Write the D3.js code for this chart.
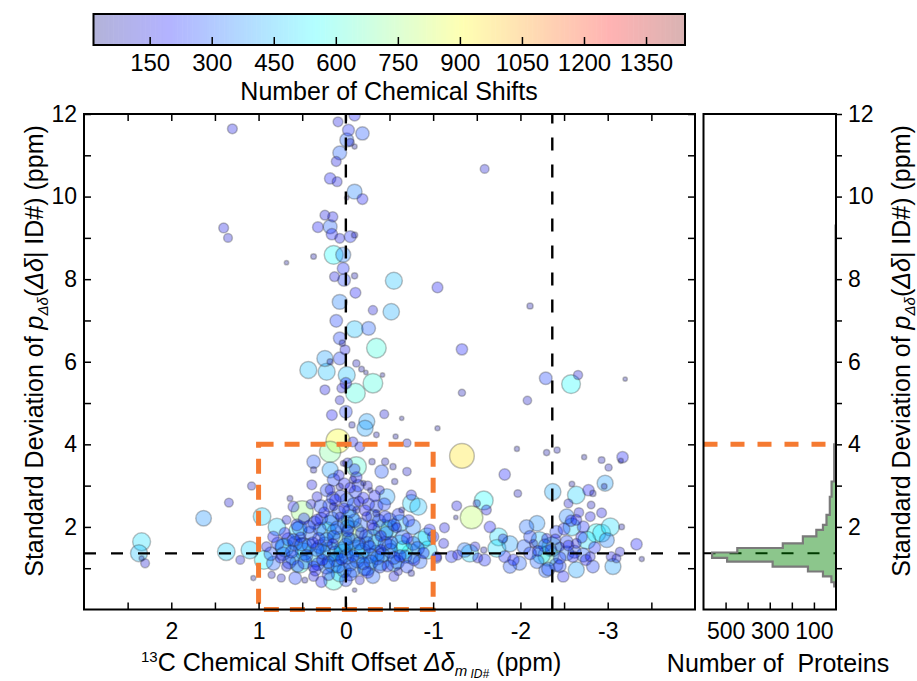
<!DOCTYPE html>
<html>
<head>
<meta charset="utf-8">
<script src="https://cdn.jsdelivr.net/npm/d3@7"></script>
<style>
  body { margin: 0; background: #fff; }
  text { font-family: "Liberation Sans", Arial, sans-serif; }
</style>
</head>
<body>
<script>
// [offset ppm, std dev ppm, number of chemical shifts]
const leftOutliers = [
  [1.30,11.64,150],[1.40,9.24,150],[1.35,9.00,120],[0.68,8.40,30],[0.37,8.55,50],
  [2.34,1.64,500],[2.37,1.36,450],[2.30,1.12,120],[2.34,1.24,40],
  [1.63,2.21,380],[1.34,2.59,120],[1.08,2.99,100],[1.37,1.40,480],[1.21,1.20,120],
  [1.10,1.44,480],[1.06,0.76,40],[0.96,2.25,480]
];

const centerColumn = [
  [0.09,11.81,150],[-0.10,11.97,200],[-0.03,11.61,220],[-0.19,11.53,280],[-0.01,11.37,300],
  [-0.05,11.31,100],[-0.10,11.21,40],[0.07,11.06,300],[0.11,10.85,150],[0.18,10.44,200],
  [0.10,10.36,150],[-0.10,10.12,350],[-0.19,9.94,180],[-0.01,9.97,30],[0.24,9.55,150],
  [0.15,9.51,160],[0.32,9.26,180],[0.18,9.27,300],[0.16,9.09,200],[0.07,8.99,150],
  [-0.05,9.03,220],[-0.10,9.07,60],[0.14,8.59,550],[0.03,8.59,350],[0.03,8.26,220],
  [0.13,8.06,150],[0.02,7.98,250],[-0.10,8.08,60],[-0.55,7.96,450],[-1.05,7.80,180],
  [-0.11,7.67,180],[0.07,7.45,350],[-0.31,7.25,130],[-0.52,7.21,420],[0.11,6.99,250],
  [-0.10,6.79,450],[-0.26,6.81,300],[0.07,6.57,250],[0.04,6.45,60],[-0.35,6.33,600],
  [0.01,6.29,150],[0.24,6.08,400],[0.18,6.00,60],[0.07,6.08,250],[-0.12,5.96,80],
  [0.43,5.80,450],[0.22,5.76,450],[-0.01,5.68,450],[-0.18,5.82,50],[-0.23,5.74,30],
  [-0.42,5.68,30],[-0.31,5.48,600],[0.24,5.32,150],[0.05,5.36,130],[-0.11,5.24,600],
  [0.00,5.48,200],[0.07,5.07,120],[0.16,4.71,180],[0.00,4.79,250],[-0.24,4.55,400],
  [-0.22,4.39,400],[-0.44,4.73,120],[-0.64,4.63,30],[-1.05,4.39,40],[-0.07,4.47,60],
  [-0.35,4.23,50],[-0.57,4.19,40],[-0.70,4.03,100]
];

const centralCluster = [
  [0.09,4.08,900],[0.18,3.82,700],[-0.08,4.06,150],[-0.16,3.94,150],
  [0.37,3.58,280],[0.37,3.38,60],[0.18,3.38,400],[0.03,3.54,50],[-0.12,3.46,620],
  [-0.30,3.58,60],[-0.41,3.34,280],[-0.45,3.58,80],[-0.54,3.46,60],[-0.70,3.34,110],
  [-0.56,3.10,60],[0.39,3.02,150],[0.14,3.14,250],[0.07,2.97,80],[-0.08,3.14,80],
  [-0.20,3.06,40],[-0.28,2.89,40],[-0.39,2.89,120],[-0.47,2.73,400],[-0.75,2.77,160],
  [-0.75,2.57,480],[-0.83,2.49,450],[-0.64,2.41,50],[0.64,2.69,50],[0.60,2.49,180],
  [0.50,2.37,750],[0.68,2.17,120],[0.79,2.00,480],[0.53,1.97,350],[0.33,2.73,150],
  [0.22,2.89,250],[0.14,2.49,100],[-0.01,2.65,300],[-0.12,2.41,80],[-0.24,2.25,150],
  [-0.35,2.33,80],[-0.50,2.17,300],[-0.62,2.09,450],[-0.43,1.93,650],[-0.08,1.88,750],
  [0.18,2.09,400],[0.33,2.17,200],[0.41,1.85,300],[0.14,1.76,250],[0.07,2.25,120],
  [0.00,2.09,400],[0.60,1.68,250],[0.72,1.52,400],[0.83,1.76,200],[0.91,1.52,150],
  [0.49,1.52,500],[0.30,1.52,300],[0.18,1.40,600],[0.03,1.36,550],[-0.12,1.48,450],
  [-0.24,1.60,300],[-0.35,1.36,400],[-0.50,1.52,350],[-0.66,1.44,550],[-0.77,1.60,300],
  [-0.87,1.68,500],[-0.94,1.44,500],[-1.00,1.76,200],[-1.12,1.60,150],[-1.04,1.24,150],
  [-0.85,1.16,300],[-0.70,1.04,250],[-0.55,1.12,400],[-0.39,1.04,250],[-0.24,1.04,500],
  [-0.08,0.96,350],[0.07,0.88,450],[0.14,0.71,600],[0.00,0.71,250],[0.22,1.04,350],
  [0.37,1.04,200],[0.53,1.12,600],[0.68,1.04,150],[0.83,1.12,300],[0.94,1.20,550],
  [0.85,0.84,80],[0.74,0.76,100],[0.58,0.76,250],[0.47,0.71,50],[0.28,0.67,200],
  [0.37,0.80,150],[-0.16,0.71,120],[-0.31,0.80,300],[-0.55,0.80,150],[-0.75,0.88,60],
  [-0.60,0.92,100],[-0.10,0.47,30],[-0.96,1.93,200],[-0.77,2.00,350],[-0.93,1.76,500],
  [-0.89,1.37,200],[-1.04,1.28,150],
  // densely packed blue proteins in the core
  [0.45,1.30,240],[0.38,1.62,200],[0.30,1.95,260],[0.25,2.35,180],[0.20,1.15,250],
  [0.15,1.58,190],[0.12,2.65,210],[0.10,1.98,280],[0.05,1.22,220],[0.02,2.45,180],
  [-0.03,1.72,260],[-0.05,2.95,170],[-0.08,1.30,230],[-0.10,2.15,280],[-0.15,2.62,160],
  [-0.18,1.85,220],[-0.20,1.12,260],[-0.22,2.40,190],[-0.27,1.52,240],[-0.30,2.05,170],
  [-0.33,2.75,200],[-0.36,1.25,300],[-0.40,1.78,190],[-0.45,2.25,220],[-0.48,1.05,200],
  [-0.52,1.62,260],[-0.58,1.98,160],[-0.62,1.30,230],[-0.70,1.72,190],[-0.78,1.20,210],
  [0.55,1.05,220],[0.52,1.75,170],[0.62,1.40,250],[0.70,1.85,190],[0.75,1.25,160],
  [0.35,0.95,200],[0.28,2.20,240],[0.18,2.90,150],[0.08,3.25,170],[-0.02,3.55,150],
  [-0.12,3.20,200],[-0.25,3.00,130],[-0.35,2.50,250],[0.40,2.55,140],[-0.05,0.85,260],
  [-0.25,0.90,220],[0.20,0.85,230],[-0.40,1.45,170],[0.00,1.55,320],[0.22,1.70,300],
  [0.42,1.55,300],[0.36,2.10,260],[0.31,1.72,230],[0.26,1.40,320],[0.19,2.52,250],
  [0.13,1.88,360],[0.09,1.05,300],[0.06,2.75,230],[0.04,1.45,400],[-0.01,1.28,340],
  [-0.04,2.38,280],[-0.07,1.65,380],[-0.11,2.85,240],[-0.13,1.18,320],[-0.17,2.05,300],
  [-0.19,1.42,380],[-0.23,1.78,270],[-0.26,2.55,220],[-0.29,1.15,300],[-0.34,1.62,360],
  [-0.38,2.15,260],[-0.42,1.32,330],[-0.46,1.85,280],[-0.51,1.42,340],[-0.55,2.05,240],
  [-0.59,1.15,300],[-0.65,1.75,320],[-0.68,1.28,270],[-0.72,2.15,220],[-0.82,1.48,300],
  [0.47,1.15,300],[0.51,1.58,270],[0.56,2.05,220],[0.61,1.25,310],[0.66,1.70,260],
  [0.72,1.35,290],[0.78,1.60,240],[0.86,1.35,280],[0.32,1.10,260],[0.24,1.58,330],
  [0.11,1.22,360],[-0.02,2.00,320],[-0.09,2.55,270],[-0.21,0.98,280],[0.02,0.95,320],
  [0.16,2.20,300],[-0.31,2.25,310],[-0.44,2.55,250],[0.29,2.50,270],[-0.14,3.00,230],
  // medium blues
  [0.42,2.00,250],[0.33,1.45,300],[0.27,1.20,200],[0.12,1.35,350],[0.08,2.35,280],
  [-0.02,1.90,220],[-0.05,1.10,300],[-0.15,1.60,260],[-0.20,2.70,200],[-0.28,1.30,340],
  [-0.32,1.95,230],[-0.45,1.60,300],[-0.55,1.25,260],[-0.60,2.30,220],[0.58,1.60,320],
  [0.48,2.20,200],[0.65,1.15,280],[0.15,2.70,240],[-0.10,3.40,180],[0.02,3.05,200],
  // cyan / green
  [0.35,1.25,500],[0.22,1.90,550],[0.05,1.65,650],[-0.15,1.35,520],[-0.30,1.70,600],
  [-0.50,1.95,480],[-0.62,1.58,550],[0.48,1.40,460],[0.70,1.50,520],[-0.05,2.20,500],
  [0.15,1.10,480],[-0.40,1.15,450],[-0.75,1.35,600],[0.55,1.90,500]
];

const rightScatter = [
  [-1.59,10.67,120],[-2.11,7.35,60],[-1.33,6.30,200],[-2.29,5.60,250],[-2.66,5.68,130],
  [-3.20,5.58,30],[-2.58,5.46,550],[-1.33,5.25,80],[-2.08,5.06,110],[-1.33,3.72,950],
  [-1.96,3.89,40],[-2.30,3.80,60],[-2.42,3.86,60],[-2.73,3.69,40],[-2.93,3.62,70],
  [-3.01,3.44,80],[-3.17,3.69,200],[-3.15,3.60,40],[-1.82,3.27,200],[-1.97,2.81,90],
  [-2.37,2.85,420],[-2.59,3.04,50],[-2.64,2.77,480],[-2.78,2.89,200],[-2.83,2.81,60],
  [-2.97,3.06,400],[-2.96,2.98,50],[-2.55,2.57,120],[-2.81,2.53,90],[-2.93,2.34,150],
  [-3.16,2.00,50],[-3.33,1.58,200],[-3.39,1.22,40],[-1.27,2.51,150],[-1.50,2.57,80],
  [-1.58,2.64,550],[-1.44,2.23,800],[-1.61,2.41,150],[-1.26,2.23,30],[-1.65,2.00,200],
  [-1.13,1.98,150],[-1.75,1.76,500],[-1.80,1.72,130],[-1.88,1.59,400],[-1.36,1.44,330],
  [-1.48,1.52,140],[-1.58,1.44,60],[-1.21,1.28,220],[-1.28,1.32,150],[-1.42,1.36,480],
  [-1.51,1.25,150],[-1.59,1.20,220],[-1.73,1.48,500],[-1.82,1.28,220],[-1.92,1.20,200],
  [-1.88,1.04,280],[-1.99,1.12,300],
  [-2.07,2.00,320],[-2.19,2.09,380],[-2.11,1.76,250],[-2.04,1.52,300],[-2.15,1.60,100],
  [-2.22,1.68,450],[-2.30,1.72,150],[-2.36,1.52,600],[-2.41,1.88,250],[-2.53,2.25,350],
  [-2.64,2.17,180],[-2.59,2.00,480],[-2.72,2.00,220],[-2.80,2.25,150],[-2.87,1.85,550],
  [-2.93,1.85,500],[-3.03,2.00,500],[-2.99,1.68,350],[-2.76,1.68,500],[-2.64,1.60,150],
  [-2.53,1.64,250],[-2.45,1.52,130],[-2.32,1.30,650],[-2.24,1.32,500],[-2.11,1.36,250],
  [-2.19,1.16,300],[-2.29,0.94,300],[-2.41,1.08,280],[-2.53,1.36,330],[-2.60,1.28,200],
  [-2.72,1.32,300],[-2.80,1.28,150],[-2.64,0.96,400],[-2.83,1.04,250],[-3.06,1.04,400],
  [-3.04,1.28,150],[-3.10,1.24,120],[-3.14,1.40,130],[-2.49,0.80,200],
  [-2.35,1.45,200],[-2.45,1.25,240],[-2.55,1.55,180],[-2.62,1.40,260],[-2.70,1.75,200],
  [-2.50,1.95,220],[-2.40,1.70,170],[-2.28,1.55,260],[-2.75,1.20,190],[-2.85,1.50,220],
  [-2.20,1.42,180],[-2.58,2.15,200],[-2.67,2.35,140],[-2.45,1.05,250],[-2.32,0.98,280]
];

// histogram of std devs (bin edges in ppm, protein counts)
const histEdges  = [0.56,0.66,0.80,0.92,1.04,1.16,1.25,1.38,1.49,1.60,1.77,1.93,2.05,2.29,2.73,3.10,4.00,9.30];
const histCounts = [8,21,59,127,287,493,561,447,241,150,89,59,43,28,20,8,2];

const meanSD = 1.36;       // horizontal dashed line
const offsetLine = -2.365; // vertical dashed line
const boxX = [1, -1], boxY = [0, 4];

const xTicks = [2.5,2,1.5,1,0.5,0,-0.5,-1,-1.5,-2,-2.5,-3,-3.5];
const yTicks = [1,2,3,4,5,6,7,8,9,10,11,12];
const histTicks = [100,200,300,400,500];
const histLabels = [500,300,100];
const cbTicks = [150,300,450,600,750,900,1050,1200,1350];

const W = 917, H = 681;
const svg = d3.select('body').append('svg')
  .attr('width', W).attr('height', H)
  .style('background-color', 'white');

const x = d3.scaleLinear().domain([3, -4]).range([84, 695]);
const y = d3.scaleLinear().domain([0, 12]).range([609.5, 114]);
const hx = d3.scaleLinear().domain([600, 0]).range([703.5, 836]);
const cb = d3.scaleLinear().domain([13, 1443]).range([93.5, 685]);

function jetRGB(t) {
  t = Math.max(0, Math.min(1, t));
  const f = v => Math.max(0, Math.min(1, v));
  return [255 * f(1.5 - Math.abs(4 * t - 3)),
          255 * f(1.5 - Math.abs(4 * t - 2)),
          255 * f(1.5 - Math.abs(4 * t - 1))];
}
const jet = t => d3.rgb(...jetRGB(t)).toString();
// jet at alpha 0.3 over white, as a solid colour (for the colorbar)
const jetPale = t => d3.rgb(...jetRGB(t).map(c => c * 0.3 + 255 * 0.7)).toString();
const color = n => jet((n - 13) / 1430);
const rad = n => 0.4 * Math.sqrt(n);

const TICK_FONT = 23;
const TITLE_FONT = 25;
function styleAxis(g) {
  g.select('.domain').remove();
  g.selectAll('.tick line').attr('stroke', '#000').attr('stroke-width', 1.5);
  g.selectAll('text').attr('font-size', TICK_FONT).attr('fill', '#000')
    .attr('font-family', '"Liberation Sans", Arial, sans-serif');
}
const fmt = d => Number.isInteger(d) ? String(d) : '';

// ---------- colorbar ----------
const nSeg = 240;
const segW = (685 - 93.5) / nSeg;
svg.append('g').selectAll('rect')
  .data(d3.range(nSeg))
  .enter().append('rect')
  .attr('x', i => 93.5 + i * segW)
  .attr('y', 14)
  .attr('width', segW + 0.6)
  .attr('height', 31)
  .attr('fill', i => jetPale((i + 0.5) / nSeg));
svg.append('rect').attr('x', 93.5).attr('y', 14).attr('width', 591.5).attr('height', 31)
  .attr('fill', 'none').attr('stroke', '#000').attr('stroke-width', 2);
svg.append('g').selectAll('line').data(cbTicks).enter().append('line')
  .attr('x1', d => cb(d)).attr('x2', d => cb(d))
  .attr('y1', 45).attr('y2', 37)
  .attr('stroke', '#000').attr('stroke-width', 1.5);
svg.append('g').selectAll('text').data(cbTicks).enter().append('text')
  .attr('x', d => cb(d)).attr('y', 71)
  .attr('text-anchor', 'middle').attr('font-size', 24)
  .text(d => d);
svg.append('text').attr('x', 389).attr('y', 100)
  .attr('text-anchor', 'middle').attr('font-size', TITLE_FONT)
  .text('Number of Chemical Shifts');

// ---------- main scatter ----------
svg.append('clipPath').attr('id', 'clipMain')
  .append('rect').attr('x', 84).attr('y', 114).attr('width', 611).attr('height', 495.5);

const allPts = [].concat(leftOutliers, centerColumn, centralCluster, rightScatter)
  .slice().sort((a, b) => b[2] - a[2]);

svg.append('g').attr('clip-path', 'url(#clipMain)')
  .selectAll('circle')
  .data(allPts)
  .enter().append('circle')
  .attr('cx', d => x(d[0]))
  .attr('cy', d => y(d[1]))
  .attr('r', d => rad(d[2]))
  .attr('fill', d => color(d[2]))
  .attr('fill-opacity', 0.3)
  .attr('stroke', '#333')
  .attr('stroke-opacity', 0.3)
  .attr('stroke-width', 1.5);

// reference lines
const refs = svg.append('g').attr('clip-path', 'url(#clipMain)');
refs.append('line')
  .attr('x1', x(3)).attr('x2', x(-4)).attr('y1', y(meanSD)).attr('y2', y(meanSD))
  .attr('stroke', '#000').attr('stroke-width', 2.4).attr('stroke-dasharray', '12,15');
[0, offsetLine].forEach(v => {
  refs.append('line')
    .attr('x1', x(v)).attr('x2', x(v)).attr('y1', y(0)).attr('y2', y(12))
    .attr('stroke', '#000').attr('stroke-width', 2.4).attr('stroke-dasharray', '13,14');
});
svg.append('rect')
  .attr('x', x(boxX[0])).attr('y', y(boxY[1]))
  .attr('width', x(boxX[1]) - x(boxX[0])).attr('height', y(boxY[0]) - y(boxY[1]))
  .attr('fill', 'none').attr('stroke', '#f57a31').attr('stroke-width', 5)
  .attr('stroke-dasharray', '15,11');

// axes of main plot
svg.append('g').attr('transform', 'translate(0,609.5)')
  .call(d3.axisBottom(x).tickValues(xTicks).tickSize(-7).tickPadding(13).tickFormat(fmt))
  .call(styleAxis);
svg.append('g').attr('transform', 'translate(0,114)')
  .call(d3.axisTop(x).tickValues(xTicks).tickSize(-7).tickFormat(''))
  .call(styleAxis);
svg.append('g').attr('transform', 'translate(84,0)')
  .call(d3.axisLeft(y).tickValues(yTicks).tickSize(-7).tickPadding(7)
    .tickFormat(d => d % 2 === 0 ? String(d) : ''))
  .call(styleAxis);
svg.append('g').attr('transform', 'translate(695,0)')
  .call(d3.axisRight(y).tickValues(yTicks).tickSize(-7).tickFormat(''))
  .call(styleAxis);
svg.append('rect').attr('x', 84).attr('y', 114).attr('width', 611).attr('height', 495.5)
  .attr('fill', 'none').attr('stroke', '#000').attr('stroke-width', 2);

// ---------- histogram panel ----------
svg.append('line')
  .attr('x1', hx(600)).attr('x2', hx(0)).attr('y1', y(meanSD)).attr('y2', y(meanSD))
  .attr('stroke', '#000').attr('stroke-width', 2).attr('stroke-dasharray', '12,14');

const stepPts = [[0, histEdges[0]]];
histCounts.forEach((c, i) => {
  stepPts.push([c, histEdges[i]]);
  stepPts.push([c, histEdges[i + 1]]);
});
stepPts.push([0, histEdges[histEdges.length - 1]]);
svg.append('path')
  .attr('d', d3.line().x(d => hx(d[0])).y(d => y(d[1]))(stepPts))
  .attr('fill', 'green').attr('fill-opacity', 0.45)
  .attr('stroke', '#7a7a7a').attr('stroke-width', 2.2);

svg.append('line')
  .attr('x1', hx(600)).attr('x2', hx(0)).attr('y1', y(4)).attr('y2', y(4))
  .attr('stroke', '#f57a31').attr('stroke-width', 5).attr('stroke-dasharray', '14,13');

svg.append('g').attr('transform', 'translate(0,609.5)')
  .call(d3.axisBottom(hx).tickValues(histTicks).tickSize(-7).tickPadding(13)
    .tickFormat(d => histLabels.includes(d) ? String(d) : ''))
  .call(styleAxis);
svg.append('g').attr('transform', 'translate(836,0)')
  .call(d3.axisRight(y).tickValues(yTicks).tickSize(6).tickPadding(6)
    .tickFormat(d => d % 2 === 0 ? String(d) : ''))
  .call(styleAxis);
svg.append('rect').attr('x', 703.5).attr('y', 114).attr('width', 132.5).attr('height', 495.5)
  .attr('fill', 'none').attr('stroke', '#000').attr('stroke-width', 2);

// ---------- axis titles ----------
const xl = svg.append('text').attr('x', 141).attr('y', 671).attr('font-size', TITLE_FONT);
xl.append('tspan').attr('font-size', 15).attr('dy', -9).text('13');
xl.append('tspan').attr('dy', 9).text('C Chemical Shift Offset ');
xl.append('tspan').attr('font-style', 'italic').text('Δδ');
xl.append('tspan').attr('font-style', 'italic').attr('font-size', 15).attr('dy', 5).text('m');
xl.append('tspan').attr('font-style', 'italic').attr('font-size', 12).attr('dy', 2).text(' ID#');
xl.append('tspan').attr('dy', -7).text(' (ppm)');

svg.append('text').attr('x', 778).attr('y', 672).attr('font-size', TITLE_FONT)
  .attr('text-anchor', 'middle').style('white-space', 'pre')
  .text('Number of  Proteins');

function yTitle(cx) {
  const t = svg.append('text')
    .attr('transform', `translate(${cx},351) rotate(-90)`)
    .attr('text-anchor', 'middle').attr('font-size', 25);
  t.append('tspan').text('Standard Deviation of ');
  t.append('tspan').attr('font-style', 'italic').text('p');
  t.append('tspan').attr('font-style', 'italic').attr('font-size', 15).attr('dy', 5).text('Δδ');
  t.append('tspan').attr('dy', -5).text('(');
  t.append('tspan').attr('font-style', 'italic').text('Δδ');
  t.append('tspan').text('| ID#) (ppm)');
}
yTitle(43);
yTitle(910);
</script>
</body>
</html>
